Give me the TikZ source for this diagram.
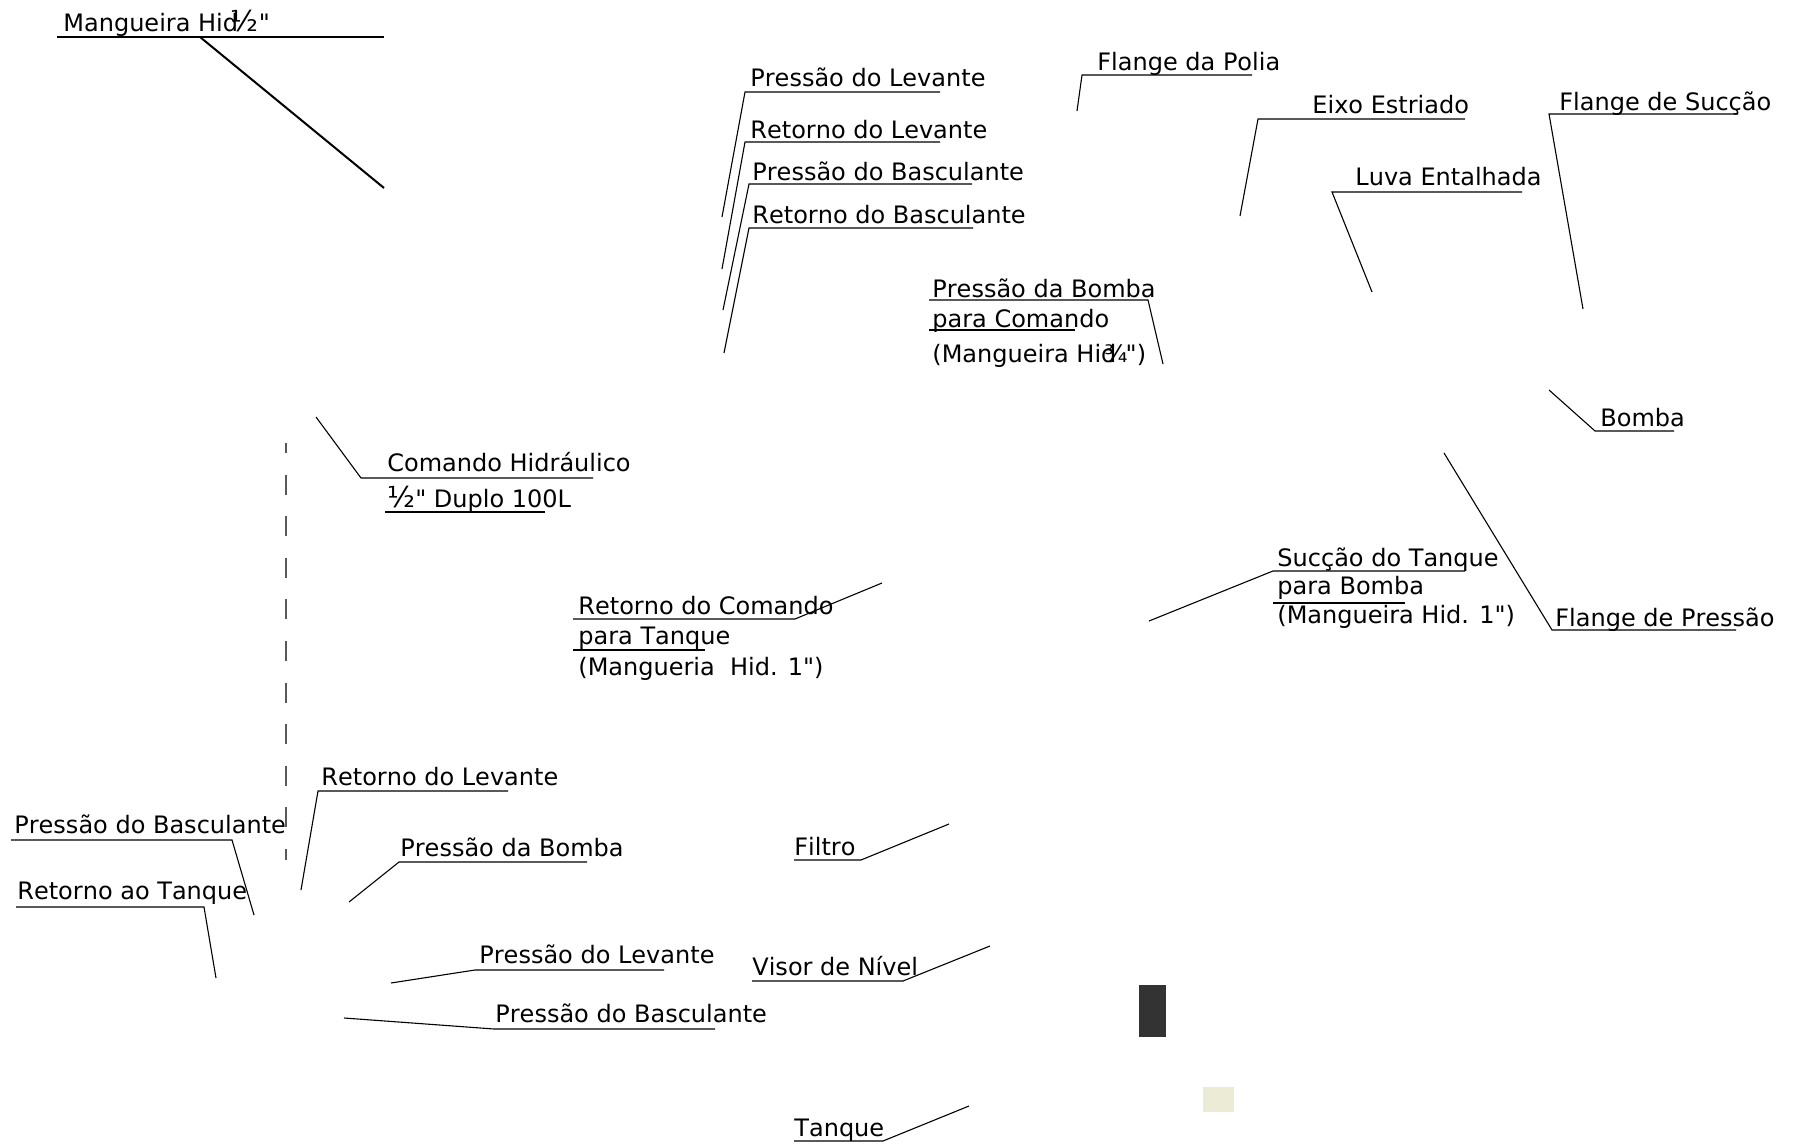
\documentclass[tikz,border=0pt]{standalone}
\usepackage{fontspec}
\newfontfamily\lblfont{DejaVu Sans}[Kerning=Off]
\definecolor{blockgray}{HTML}{333333}
\definecolor{sightbeige}{HTML}{ECECD6}
\newcommand{\half}{\scalebox{1.2}{½}}

\begin{document}
\begin{tikzpicture}[x=0.5pt, y=-0.5pt,
  lbl/.style={anchor=base west, inner sep=0pt, font=\lblfont\fontsize{12}{14}\selectfont},
  lead/.style={line width=0.55pt},
  hose/.style={line width=1pt}]

  \useasboundingbox (0,0) rectangle (1793,1144);

  % mangueira no alto
  \node[lbl] (mang) at (63,32) {Mangueira Hid\kern-3.6pt\half"};
  \coordinate (mang-l) at (57,37);
  \coordinate (mang-r) at (384,37);
  \coordinate (mang-k) at (200,37);
  \coordinate (mang-t) at (384,188);
  \draw[hose] (mang-l) -- (mang-r);
  \draw[hose] (mang-k) -- (mang-t);

  % saidas do comando
  \node[lbl] (presLevA) at (750,87) {Pressão do Levante};
  \coordinate (presLevA-u) at (940,92);
  \coordinate (presLevA-k) at (745,92);
  \coordinate (presLevA-t) at (722,217);
  \draw[lead] (presLevA-u) -- (presLevA-k) -- (presLevA-t);

  \node[lbl] (retLevA) at (750,139) {Retorno do Levante};
  \coordinate (retLevA-u) at (940,142);
  \coordinate (retLevA-k) at (745,142);
  \coordinate (retLevA-t) at (722,269);
  \draw[lead] (retLevA-u) -- (retLevA-k) -- (retLevA-t);

  \node[lbl] (presBascA) at (752,181) {Pressão do Basculante};
  \coordinate (presBascA-u) at (972,184);
  \coordinate (presBascA-k) at (749,184);
  \coordinate (presBascA-t) at (723,310);
  \draw[lead] (presBascA-u) -- (presBascA-k) -- (presBascA-t);

  \node[lbl] (retBascA) at (752,224) {Retorno do Basculante};
  \coordinate (retBascA-u) at (973,228);
  \coordinate (retBascA-k) at (749,228);
  \coordinate (retBascA-t) at (724,353);
  \draw[lead] (retBascA-u) -- (retBascA-k) -- (retBascA-t);

  % bomba e acoplamento
  \node[lbl] (flPolia) at (1097,71) {Flange da Polia};
  \coordinate (flPolia-u) at (1252,75);
  \coordinate (flPolia-k) at (1082,75);
  \coordinate (flPolia-t) at (1077,111);
  \draw[lead] (flPolia-u) -- (flPolia-k) -- (flPolia-t);

  \node[lbl] (eixo) at (1312,114) {Eixo Estriado};
  \coordinate (eixo-u) at (1465,119);
  \coordinate (eixo-k) at (1258,119);
  \coordinate (eixo-t) at (1240,216);
  \draw[lead] (eixo-u) -- (eixo-k) -- (eixo-t);

  \node[lbl] (luva) at (1355,186) {Luva Entalhada};
  \coordinate (luva-u) at (1522,192);
  \coordinate (luva-k) at (1332,192);
  \coordinate (luva-t) at (1372,292);
  \draw[lead] (luva-u) -- (luva-k) -- (luva-t);

  \node[lbl] (flSuc) at (1559,111) {Flange de Sucção};
  \coordinate (flSuc-u) at (1738,114);
  \coordinate (flSuc-k) at (1549,114);
  \coordinate (flSuc-t) at (1583,309);
  \draw[lead] (flSuc-u) -- (flSuc-k) -- (flSuc-t);

  \node[lbl] (bomba) at (1600,427) {Bomba};
  \coordinate (bomba-u) at (1674,431);
  \coordinate (bomba-k) at (1595,431);
  \coordinate (bomba-t) at (1549,390);
  \draw[lead] (bomba-u) -- (bomba-k) -- (bomba-t);

  \node[lbl] (presCmd1) at (932,298) {Pressão da Bomba};
  \node[lbl] (presCmd2) at (932,328) {para Comando};
  \node[lbl] (presCmd3) at (932,363) {(Mangueira Hid\kern-6pt¾\kern-1pt")};
  \coordinate (presCmd-u) at (929,300);
  \coordinate (presCmd-k) at (1148,300);
  \coordinate (presCmd-t) at (1163,364);
  \coordinate (presCmd-a) at (929,330);
  \coordinate (presCmd-b) at (1075,330);
  \draw[lead] (presCmd-u) -- (presCmd-k) -- (presCmd-t);
  \draw[lead] (presCmd-a) -- (presCmd-b);

  \node[lbl] (sucTq1) at (1277,566) {Sucção do Tanque};
  \node[lbl] (sucTq2) at (1277,594) {para Bomba};
  \node[lbl] (sucTq3) at (1277,623) {(Mangueira Hid. 1")};
  \coordinate (sucTq-u) at (1465,571);
  \coordinate (sucTq-k) at (1273,571);
  \coordinate (sucTq-t) at (1149,621);
  \coordinate (sucTq-a) at (1273,603);
  \coordinate (sucTq-b) at (1405,603);
  \draw[lead] (sucTq-u) -- (sucTq-k) -- (sucTq-t);
  \draw[lead] (sucTq-a) -- (sucTq-b);

  \node[lbl] (flPres) at (1555,626) {Flange de Pressão};
  \coordinate (flPres-u) at (1736,630);
  \coordinate (flPres-k) at (1552,630);
  \coordinate (flPres-t) at (1444,453);
  \draw[lead] (flPres-u) -- (flPres-k) -- (flPres-t);

  % comando hidraulico
  \node[lbl] (cmd1) at (387,471) {Comando Hidráulico};
  \node[lbl] (cmd2) at (387,507) {\half" Duplo 100L};
  \coordinate (cmd-u) at (593,478);
  \coordinate (cmd-k) at (361,478);
  \coordinate (cmd-t) at (316,417);
  \coordinate (cmd-a) at (385,512);
  \coordinate (cmd-b) at (545,512);
  \draw[lead] (cmd-u) -- (cmd-k) -- (cmd-t);
  \draw[lead] (cmd-a) -- (cmd-b);

  \draw[line width=0.65pt, black!65, dash pattern=on 10pt off 10.8pt, dash phase=5pt] (286,443) -- (286,860);

  \node[lbl] (retCmd1) at (578,614) {Retorno do Comando};
  \node[lbl] (retCmd2) at (578,644) {para Tanque};
  \node[lbl] (retCmd3) at (578,675) {(Mangueria\ \ Hid. 1")};
  \coordinate (retCmd-u) at (573,619);
  \coordinate (retCmd-k) at (795,619);
  \coordinate (retCmd-t) at (882,583);
  \coordinate (retCmd-a) at (573,650);
  \coordinate (retCmd-b) at (705,650);
  \draw[lead] (retCmd-u) -- (retCmd-k) -- (retCmd-t);
  \draw[lead] (retCmd-a) -- (retCmd-b);

  % ligacoes embaixo
  \node[lbl] (retLevB) at (321,785) {Retorno do Levante};
  \coordinate (retLevB-u) at (508,791);
  \coordinate (retLevB-k) at (318,791);
  \coordinate (retLevB-t) at (301,890);
  \draw[lead] (retLevB-u) -- (retLevB-k) -- (retLevB-t);

  \node[lbl] (presBascB) at (14,833) {Pressão do Basculante};
  \coordinate (presBascB-u) at (11,840);
  \coordinate (presBascB-k) at (232,840);
  \coordinate (presBascB-t) at (254,915);
  \draw[lead] (presBascB-u) -- (presBascB-k) -- (presBascB-t);

  \node[lbl] (retTq) at (17,899) {Retorno ao Tanque};
  \coordinate (retTq-u) at (16,907);
  \coordinate (retTq-k) at (204,907);
  \coordinate (retTq-t) at (216,978);
  \draw[lead] (retTq-u) -- (retTq-k) -- (retTq-t);

  \node[lbl] (presBombaB) at (400,856) {Pressão da Bomba};
  \coordinate (presBombaB-u) at (587,862);
  \coordinate (presBombaB-k) at (399,862);
  \coordinate (presBombaB-t) at (349,902);
  \draw[lead] (presBombaB-u) -- (presBombaB-k) -- (presBombaB-t);

  \node[lbl] (presLevB) at (479,963) {Pressão do Levante};
  \coordinate (presLevB-u) at (664,970);
  \coordinate (presLevB-k) at (475,970);
  \coordinate (presLevB-t) at (391,983);
  \draw[lead] (presLevB-u) -- (presLevB-k) -- (presLevB-t);

  \node[lbl] (presBascC) at (495,1022) {Pressão do Basculante};
  \coordinate (presBascC-u) at (715,1029);
  \coordinate (presBascC-k) at (494,1029);
  \coordinate (presBascC-t) at (344,1018);
  \draw[lead] (presBascC-u) -- (presBascC-k) -- (presBascC-t);

  % tanque
  \node[lbl] (filtro) at (794,855) {Filtro};
  \coordinate (filtro-u) at (794,860);
  \coordinate (filtro-k) at (861,860);
  \coordinate (filtro-t) at (949,824);
  \draw[lead] (filtro-u) -- (filtro-k) -- (filtro-t);

  \node[lbl] (visor) at (752,975) {Visor de Nível};
  \coordinate (visor-u) at (752,981);
  \coordinate (visor-k) at (903,981);
  \coordinate (visor-t) at (990,946);
  \draw[lead] (visor-u) -- (visor-k) -- (visor-t);

  \node[lbl] (tanque) at (794,1136) {Tanque};
  \coordinate (tanque-u) at (794,1141);
  \coordinate (tanque-k) at (883,1141);
  \coordinate (tanque-t) at (969,1106);
  \draw[lead] (tanque-u) -- (tanque-k) -- (tanque-t);

  \fill[blockgray] (1139,985) rectangle (1166,1037);
  \fill[sightbeige] (1203,1087) rectangle (1234,1112);

\end{tikzpicture}
\end{document}
